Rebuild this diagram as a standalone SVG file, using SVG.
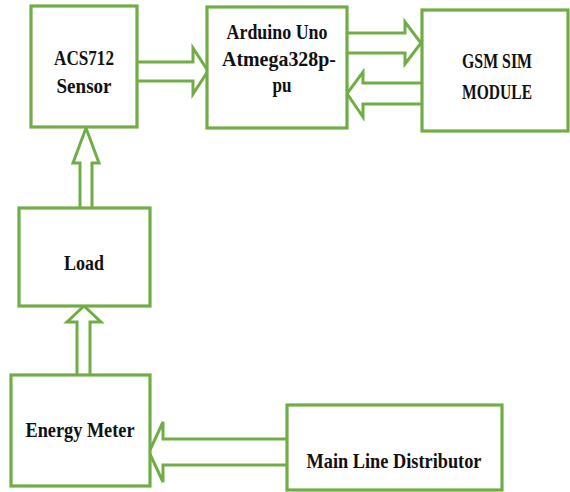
<svg xmlns="http://www.w3.org/2000/svg" width="570" height="492" viewBox="0 0 570 492">
<style>
.box{fill:#fff;stroke:#70ad47;stroke-width:3.2}
.arr{fill:#fff;stroke:#70ad47;stroke-width:3;stroke-linejoin:miter}
text{font-family:"Liberation Serif","Times New Roman",serif;font-weight:bold;font-size:18.5px;fill:#111;text-anchor:middle}
</style>
<rect width="570" height="492" fill="#fff"/>
<g id="connectors">
<path class="arr" d="M137,62 H193 V48 L208,71 L193,94 V81 H137"/>
<path class="arr" d="M347,33 H405 V22 L421,43 L405,64 V53 H347"/>
<path class="arr" d="M422,83 H363 V72 L347,93.5 L363,117 V104 H422"/>
<path class="arr" d="M80,208 V163 H73 L86,128 L99,163 H92 V208"/>
<path class="arr" d="M77,376 V322 H67 L84,306 L101,322 H90 V376"/>
<path class="arr" d="M287,439 H163 V422 L149,452 L163,482 V465 H287"/>
</g>
<g id="acs712">
<rect class="box" x="31" y="6" width="106" height="121"/>
<text transform="translate(84,65) scale(1,1.15)" textLength="60" lengthAdjust="spacingAndGlyphs">ACS712</text>
<text transform="translate(84,93) scale(1,1.15)" textLength="55" lengthAdjust="spacingAndGlyphs">Sensor</text>
</g>
<g id="arduino">
<rect class="box" x="207" y="7" width="140" height="121"/>
<text transform="translate(277,39) scale(1,1.15)" textLength="101" lengthAdjust="spacingAndGlyphs">Arduino Uno</text>
<text transform="translate(279,66) scale(1,1.15)" textLength="114" lengthAdjust="spacingAndGlyphs">Atmega328p-</text>
<text transform="translate(282,92) scale(1,1.15)" textLength="19" lengthAdjust="spacingAndGlyphs">pu</text>
</g>
<g id="gsm">
<rect class="box" x="422" y="10" width="146" height="121"/>
<text transform="translate(497,68) scale(1,1.15)" textLength="70" lengthAdjust="spacingAndGlyphs">GSM SIM</text>
<text transform="translate(497,99) scale(1,1.15)" textLength="70" lengthAdjust="spacingAndGlyphs">MODULE</text>
</g>
<g id="load">
<rect class="box" x="19" y="208" width="131" height="98"/>
<text transform="translate(84,270) scale(1,1.15)" textLength="40" lengthAdjust="spacingAndGlyphs">Load</text>
</g>
<g id="energy">
<rect class="box" x="11" y="375" width="139" height="111"/>
<text transform="translate(80,437) scale(1,1.15)" textLength="109" lengthAdjust="spacingAndGlyphs">Energy Meter</text>
</g>
<g id="mainline">
<rect class="box" x="287" y="405" width="215" height="85"/>
<text transform="translate(394,468) scale(1,1.15)" textLength="175" lengthAdjust="spacingAndGlyphs">Main Line Distributor</text>
</g>
</svg>
